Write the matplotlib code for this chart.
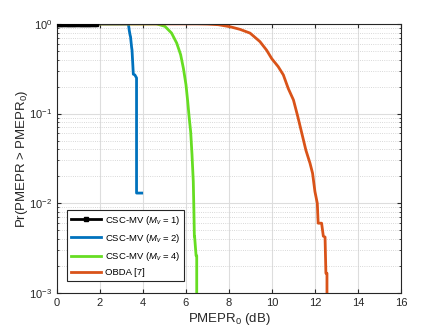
import numpy as np
import matplotlib
matplotlib.use('Agg')
import matplotlib.pyplot as plt
from matplotlib.ticker import LogLocator, NullFormatter

plt.rcParams['font.family'] = ['Liberation Sans', 'DejaVu Sans']
plt.rcParams['mathtext.fontset'] = 'custom'
plt.rcParams['mathtext.rm'] = 'Liberation Sans'
plt.rcParams['mathtext.it'] = 'Liberation Sans:italic'

# CSC-MV, Mv = 1
x1 = [0, 0.1, 0.2, 0.3, 0.4, 0.5, 0.6, 0.7, 0.8, 0.9, 1.0, 1.1, 1.2, 1.3, 1.4, 1.5, 1.6, 1.7, 1.8]
y1 = [1] * len(x1)

# CSC-MV, Mv = 2
x2 = [0, 3.32, 3.36, 3.40, 3.42, 3.47, 3.49, 3.55, 3.62, 3.70, 3.70, 3.94]
y2 = [1, 1, 0.85, 0.75, 0.72, 0.55, 0.51, 0.275, 0.27, 0.25, 0.013, 0.013]

# CSC-MV, Mv = 4
x4 = [0, 4.63, 5.02, 5.33, 5.57, 5.75, 5.88, 6.0, 6.08, 6.15, 6.22, 6.28, 6.34,
      6.37, 6.39, 6.40, 6.47, 6.50, 6.50]
y4 = [1, 1, 0.94, 0.79, 0.61, 0.455, 0.32, 0.21, 0.137, 0.09, 0.062, 0.035, 0.0175,
      0.008, 0.0043, 0.0043, 0.0026, 0.0026, 0.0005]

# OBDA [7]
xo = [0, 6.5, 7.0, 7.5, 8.05, 8.51, 8.98, 9.44, 9.75, 9.99, 10.29, 10.53, 10.76,
      11.0, 11.2, 11.43, 11.58, 11.77, 11.89, 12.0, 12.11, 12.15, 12.31, 12.39,
      12.47, 12.51, 12.56, 12.56]
yo = [1, 1, 0.995, 0.98, 0.93, 0.87, 0.79, 0.635, 0.51, 0.41, 0.334, 0.27, 0.19,
      0.142, 0.093, 0.055, 0.039, 0.028, 0.0216, 0.0135, 0.01, 0.006, 0.006, 0.0043,
      0.0042, 0.00166, 0.00166, 0.0005]

fig = plt.figure(figsize=(4.43, 3.32), dpi=100)
ax = fig.add_axes([0.1287, 0.1175, 0.7763, 0.8105])

ax.semilogy(x1, y1, color='k', lw=2, marker='s', ms=3.5, label=r'CSC-MV ($\it{M}_v$ = 1)', zorder=5)
ax.semilogy(x2, y2, color='#0072BD', lw=2, label=r'CSC-MV ($\it{M}_v$ = 2)')
ax.semilogy(x4, y4, color='#66DD22', lw=2, label=r'CSC-MV ($\it{M}_v$ = 4)')
ax.semilogy(xo, yo, color='#D95319', lw=2, label='OBDA [7]')

ax.set_xlim(0, 16)
ax.set_ylim(1e-3, 1)
ax.set_xticks(np.arange(0, 17, 2))
ax.yaxis.set_minor_locator(LogLocator(base=10, subs=np.arange(2, 10)))
ax.yaxis.set_minor_formatter(NullFormatter())

ax.grid(True, which='major', color='#DDDDDD', lw=0.8, ls='-')
ax.grid(True, which='minor', axis='y', color='#CCCCCC', lw=0.6, ls=':')
ax.set_axisbelow(True)

ax.tick_params(which='both', direction='in', top=True, right=True, labelsize=8, colors='#262626')
ax.tick_params(which='major', length=3)
ax.tick_params(which='minor', length=1.5)
for s in ax.spines.values():
    s.set_color('#262626')
    s.set_linewidth(0.8)

ax.set_xlabel(r'PMEPR$_0$ (dB)', fontsize=9.5, color='#262626', labelpad=2)
ax.set_ylabel(r'Pr(PMEPR > PMEPR$_0$)', fontsize=9.5, color='#262626', labelpad=-1)

leg = ax.legend(loc='lower left', bbox_to_anchor=(0.029, 0.045), borderaxespad=0,
                fontsize=6.8, fancybox=False, edgecolor='#262626', framealpha=1,
                handlelength=3.2, handletextpad=0.4, borderpad=0.4, labelspacing=0.55)
leg.get_frame().set_linewidth(0.8)

fig.savefig('out.png', dpi=100)
